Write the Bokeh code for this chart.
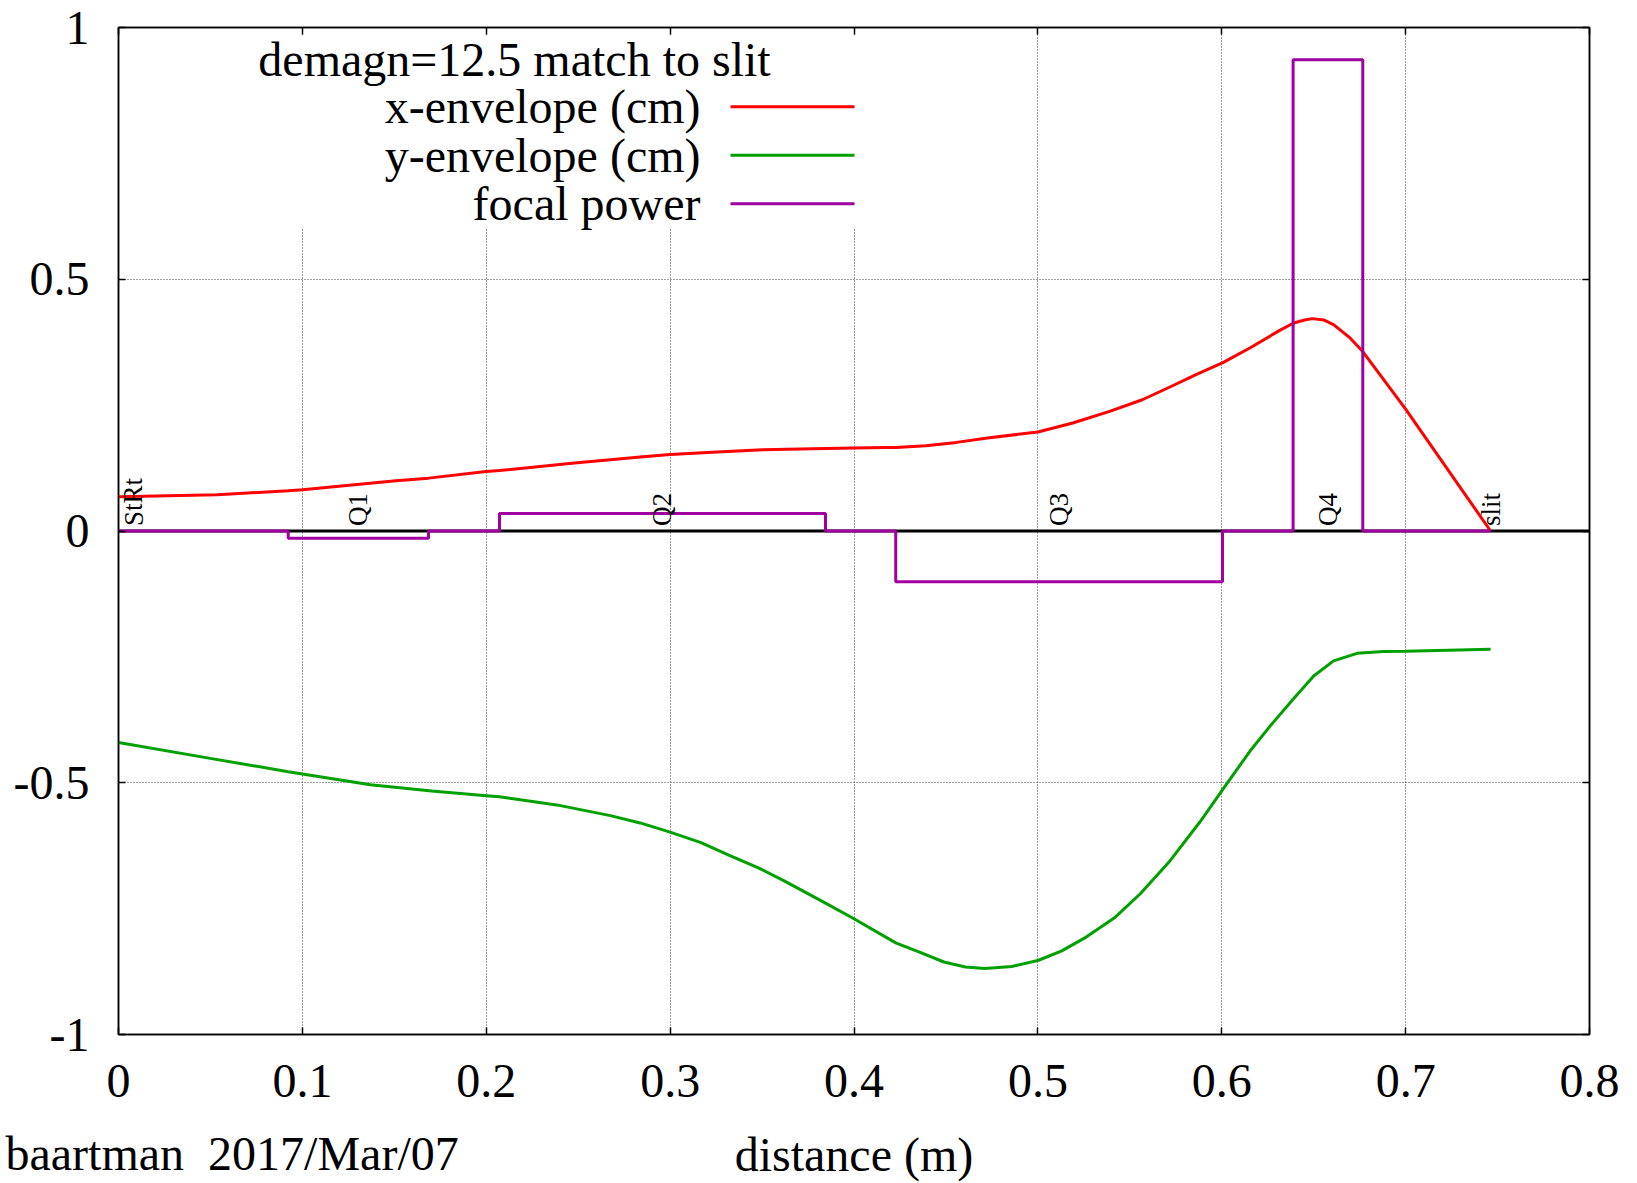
from bokeh.plotting import figure
from bokeh.models import Range1d, FixedTicker, Span, BoxAnnotation, Label, LinearAxis, Title
from bokeh.embed import file_html
from bokeh.resources import INLINE
from bokeh.core.properties import value

# ---------------- data ----------------
x_env_s = [0.0, 0.0537, 0.0923, 0.1, 0.151, 0.1686, 0.2, 0.2072, 0.248, 0.2837, 0.3, 0.3282,
           0.3503, 0.3845, 0.4, 0.4169, 0.4227, 0.4391, 0.4558, 0.4725, 0.5, 0.519, 0.539,
           0.5568, 0.5724, 0.5857, 0.6, 0.6004, 0.6155, 0.6318, 0.6388, 0.645, 0.6494, 0.6554,
           0.661, 0.6699, 0.6767, 0.7, 0.7462]
x_env = [0.068, 0.072, 0.080, 0.082, 0.100, 0.105, 0.118, 0.120, 0.135, 0.147, 0.152, 0.1576,
         0.1615, 0.164, 0.165, 0.166, 0.166, 0.1695, 0.176, 0.1847, 0.1966, 0.2144, 0.2375,
         0.2607, 0.287, 0.310, 0.3334, 0.334, 0.364, 0.399, 0.4127, 0.419, 0.4218, 0.4192,
         0.4093, 0.383, 0.3564, 0.242, 0.0]

y_env_s = [0.0, 0.0499, 0.0923, 0.1, 0.137, 0.1703, 0.2, 0.2072, 0.2383, 0.2675, 0.2837, 0.3,
           0.3168, 0.3325, 0.348, 0.3615, 0.381, 0.3845, 0.4, 0.4227, 0.4353, 0.4489, 0.4606,
           0.4712, 0.4858, 0.5, 0.513, 0.5265, 0.5421, 0.5557, 0.5712, 0.5883, 0.6, 0.6155,
           0.6264, 0.6388, 0.650, 0.6608, 0.6736, 0.688, 0.7, 0.7462]
y_env = [-0.420, -0.4516, -0.478, -0.4827, -0.504, -0.5163, -0.5257, -0.528, -0.544, -0.5653, -0.5798, -0.598,
         -0.619, -0.6446, -0.669, -0.694, -0.732, -0.739, -0.770, -0.818, -0.836, -0.856, -0.866,
         -0.869, -0.865, -0.853, -0.834, -0.806, -0.767, -0.7205, -0.658, -0.577, -0.516, -0.4365,
         -0.387, -0.334, -0.288, -0.258, -0.243, -0.2395, -0.2389, -0.2349]

elem_names = ["Q1", "Q2", "Q3", "Q4"]
elem_start = [0.0923, 0.2072, 0.4227, 0.6388]
elem_end = [0.1686, 0.3845, 0.6004, 0.6767]
elem_power = [-0.0143, 0.0347, -0.101, 0.936]
start_name, start_pos = "StRt", 0.0
slit_name, slit_pos = "slit", 0.7462

x_ticks = [0, 0.1, 0.2, 0.3, 0.4, 0.5, 0.6, 0.7, 0.8]
x_tick_labels = ["0", "0.1", "0.2", "0.3", "0.4", "0.5", "0.6", "0.7", "0.8"]
y_ticks = [-1, -0.5, 0, 0.5, 1]
y_tick_labels = ["-1", "-0.5", "0", "0.5", "1"]

legend_title = "demagn=12.5 match to slit"
series_labels = ["x-envelope (cm)", "y-envelope (cm)", "focal power"]
x_label = "distance (m)"
footer = "baartman \u00a02017/Mar/07"

# ---------------- layout ----------------
W, H = 1637, 1183
L, R, T, B = 118, 48, 27, 147
FW, FH = W - L - R, H - T - B
X0, X1, Y0, Y1 = 0.0, 0.8, -1.0, 1.0


def dx(px):
    return X0 + (px - L) / FW * (X1 - X0)


def dy(py):
    return Y1 - (py - T) / FH * (Y1 - Y0)


FONT = "Liberation Serif"
BIG = "48px"
RED, GREEN, MAG = "#ff0000", "#00a000", "#a000a0"

p = figure(width=W, height=H, x_range=Range1d(X0, X1), y_range=Range1d(Y0, Y1),
           output_backend="svg", toolbar_location=None,
           min_border_left=L, min_border_right=R, min_border_top=T, min_border_bottom=B)
p.background_fill_color = "white"
p.border_fill_color = "white"
p.outline_line_color = "black"
p.outline_line_width = 1.5

# axes
xax = p.xaxis[0]
xax.ticker = FixedTicker(ticks=x_ticks)
xax.major_label_overrides = {t: s for t, s in zip(x_ticks, x_tick_labels)}
yax = p.yaxis[0]
yax.ticker = FixedTicker(ticks=y_ticks)
yax.major_label_overrides = {t: s for t, s in zip(y_ticks, y_tick_labels)}
for ax in (xax, yax):
    ax.major_label_text_font = FONT
    ax.major_label_text_font_size = BIG
    ax.major_label_text_color = "black"
    ax.major_tick_in = 7
    ax.major_tick_out = 0
    ax.minor_tick_line_color = None
    ax.axis_line_color = "black"
    ax.axis_line_width = 1.5
    ax.major_tick_line_color = "black"
    ax.major_tick_line_width = 1.5
xax.major_label_standoff = 30
yax.major_label_standoff = 29
xax.axis_label = x_label
xax.axis_label_text_font = FONT
xax.axis_label_text_font_size = BIG
xax.axis_label_text_font_style = "normal"
xax.axis_label_text_color = "black"
xax.axis_label_standoff = 28

top_ax = LinearAxis(ticker=FixedTicker(ticks=x_ticks),
                    major_label_overrides={t: "" for t in x_ticks})
right_ax = LinearAxis(ticker=FixedTicker(ticks=y_ticks),
                      major_label_overrides={t: "" for t in y_ticks})
for ax in (top_ax, right_ax):
    ax.major_label_text_font_size = "1px"
    ax.major_label_standoff = 0
    ax.major_tick_in = 7
    ax.major_tick_out = 0
    ax.minor_tick_line_color = None
    ax.axis_line_color = "black"
    ax.axis_line_width = 1.5
    ax.major_tick_line_width = 1.5
p.add_layout(top_ax, "above")
p.add_layout(right_ax, "right")

# footer (side-panel title so that it is not clipped to the frame)
foot = Title(text=footer, align="left", vertical_align="top", offset=5 - L, standoff=-114,
             text_font=FONT, text_font_size=BIG, text_font_style="normal", text_color="black")
p.add_layout(foot, "below")

# grid
p.xgrid.ticker = FixedTicker(ticks=x_ticks)
p.ygrid.ticker = FixedTicker(ticks=y_ticks)
for g in (p.xgrid[0], p.ygrid[0]):
    g.grid_line_color = "black"
    g.grid_line_alpha = 0.75
    g.grid_line_width = 1
    g.grid_line_dash = "1 2"

# legend background box (covers gridlines)
box = BoxAnnotation(left=dx(240), right=dx(872), top=dy(35), bottom=dy(228),
                    fill_color="white", fill_alpha=1.0, line_color=None, level="underlay")
p.add_layout(box)

# zero axis
p.add_layout(Span(location=0, dimension="width", line_color="black", line_width=3, level="underlay"))

# curves
p.line(x_env_s, x_env, line_color=RED, line_width=3)
p.line(y_env_s, y_env, line_color=GREEN, line_width=3)

fx, fy = [start_pos], [0.0]
for s, e, k in zip(elem_start, elem_end, elem_power):
    fx += [s, s, e, e]
    fy += [0.0, k, k, 0.0]
fx.append(slit_pos)
fy.append(0.0)
p.line(fx, fy, line_color=MAG, line_width=3)

# element labels (rotated)
lab_x = [(s + e) / 2 for s, e in zip(elem_start, elem_end)] + [slit_pos]
lab_t = elem_names + [slit_name]
common = dict(angle=1.5708, text_font=value(FONT), text_font_size="27px", text_color="black",
              text_align="left", y_offset=-5)
p.text(x=lab_x, y=[0.0] * len(lab_x), text=lab_t, text_baseline="middle", **common)
p.text(x=[start_pos], y=[0.0], text=[start_name], text_baseline="top", **common)

# legend (gnuplot style: text then line sample)
p.add_layout(Label(x=dx(514), y=dy(59), text=legend_title, text_font=FONT,
                   text_font_size=BIG, text_align="center", text_baseline="middle",
                   text_color="black"))
row_y = [106.5, 155, 203.5]
for lbl, col, ry in zip(series_labels, [RED, GREEN, MAG], row_y):
    p.add_layout(Label(x=dx(700), y=dy(ry), text=lbl, text_font=FONT, text_font_size=BIG,
                       text_align="right", text_baseline="middle", text_color="black"))
    p.segment(x0=[dx(730)], x1=[dx(854)], y0=[dy(ry)], y1=[dy(ry)],
              line_color=col, line_width=3)

open("out.html", "w").write(file_html(p, INLINE))
